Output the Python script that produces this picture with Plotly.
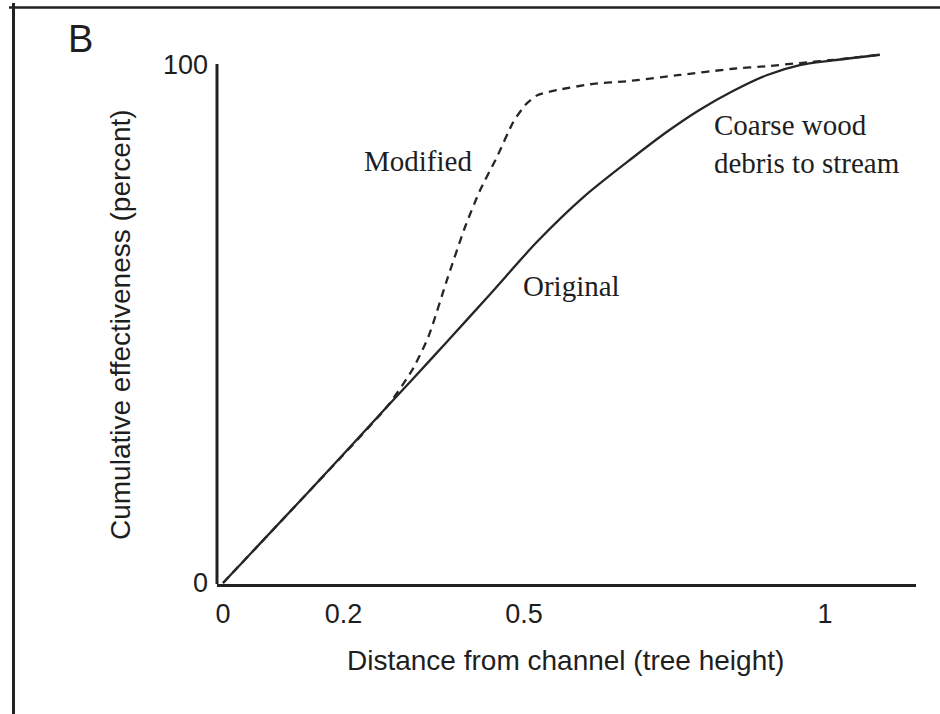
import plotly.graph_objects as go

# ---- data ----
original_x = [0.0, 0.14, 0.272, 0.316, 0.372, 0.444, 0.522, 0.601, 0.681, 0.738, 0.792, 0.847, 0.904, 0.958, 1.013, 1.091]
original_y = [0.0, 17.3, 33.9, 39.4, 46.5, 55.7, 65.8, 74.6, 82.0, 87.0, 91.2, 94.8, 97.9, 99.8, 100.7, 101.8]

modified_x = [0.0, 0.14, 0.272, 0.314, 0.341, 0.372, 0.402, 0.427, 0.455, 0.482, 0.502, 0.522, 0.555, 0.615, 0.671, 0.759, 0.847, 0.904, 0.958, 1.013, 1.091]
modified_y = [0.0, 17.3, 33.9, 41.0, 47.4, 58.4, 68.6, 75.7, 82.1, 88.8, 92.1, 94.0, 95.0, 96.2, 96.7, 97.9, 99.1, 99.6, 100.2, 100.8, 101.8]

x_tickvals = [0, 0.2, 0.5, 1]
x_ticktext = ["0", "0.2", "0.5", "1"]
y_tickvals = [0, 100]
y_ticktext = ["0", "100"]

line_color = "#262626"
text_color = "#1e1e1e"
sans = "Liberation Sans, Arial, sans-serif"
serif = "Liberation Serif, Times New Roman, serif"

fig = go.Figure()
fig.add_trace(go.Scatter(x=modified_x, y=modified_y, mode="lines", name="Modified",
                         line=dict(color=line_color, width=2.3, dash="8px,6px",
                                   shape="spline", smoothing=0.6)))
fig.add_trace(go.Scatter(x=original_x, y=original_y, mode="lines", name="Original",
                         line=dict(color=line_color, width=2.3, shape="spline", smoothing=0.8)))

L, R, T, B = 217, 24, 48, 130
W, H = 940, 714
pw, ph = W - L - R, H - T - B

def px(xp):
    return (xp - L) / pw

def py(yp):
    return (H - B - yp) / ph

fig.update_layout(
    width=W, height=H,
    margin=dict(l=L, r=R, t=T, b=B),
    paper_bgcolor="white", plot_bgcolor="white",
    showlegend=False,
    xaxis=dict(range=[-0.00997, 1.151], tickvals=x_tickvals, ticktext=x_ticktext,
               showgrid=False, zeroline=False, showline=True, linecolor="#222", linewidth=3,
               ticks="", tickfont=dict(family=sans, size=27, color=text_color),
               ticklabelstandoff=4),
    yaxis=dict(range=[-0.2, 103.1], tickvals=y_tickvals, ticktext=y_ticktext,
               showgrid=False, zeroline=False, showline=False,
               ticks="", tickfont=dict(family=sans, size=27, color=text_color),
               ticklabelstandoff=8),
)

shapes = [
    # y-axis line up to 100
    dict(type="line", xref="paper", yref="y", x0=0, x1=0, y0=-0.2, y1=100,
         line=dict(color="#222", width=3)),
    # outer frame: left and top rules
    dict(type="line", xref="paper", yref="paper", x0=px(13.5), x1=px(13.5), y0=py(3), y1=py(714),
         line=dict(color="#222", width=3)),
    dict(type="line", xref="paper", yref="paper", x0=px(9), x1=px(940), y0=py(7.5), y1=py(7.5),
         line=dict(color="#222", width=2.5)),
]
fig.update_layout(shapes=shapes)

annotations = [
    dict(text="B", xref="paper", yref="paper", x=px(80), y=py(39), xanchor="center", yanchor="middle",
         showarrow=False, font=dict(family=sans, size=38, color=text_color)),
    dict(text="Distance from channel (tree height)", xref="paper", yref="paper", x=px(565), y=py(660),
         xanchor="center", yanchor="middle", showarrow=False,
         font=dict(family=sans, size=28, color=text_color)),
    dict(text="Cumulative effectiveness (percent)", xref="paper", yref="paper", x=px(120), y=py(325),
         xanchor="center", yanchor="middle", textangle=-90, showarrow=False,
         font=dict(family=sans, size=28, color=text_color)),
    dict(text="Modified", xref="paper", yref="paper", x=px(362), y=py(161), xanchor="left", yanchor="middle",
         showarrow=False, font=dict(family=serif, size=29, color=text_color)),
    dict(text="Original", xref="paper", yref="paper", x=px(521), y=py(286), xanchor="left", yanchor="middle",
         showarrow=False, font=dict(family=serif, size=29, color=text_color)),
    dict(text="Coarse wood<br>debris to stream", xref="paper", yref="paper", x=px(712), y=py(144),
         xanchor="left", yanchor="middle", align="left", showarrow=False,
         font=dict(family=serif, size=29, color=text_color)),
]
fig.update_layout(annotations=annotations)

fig.write_html("out.html")
